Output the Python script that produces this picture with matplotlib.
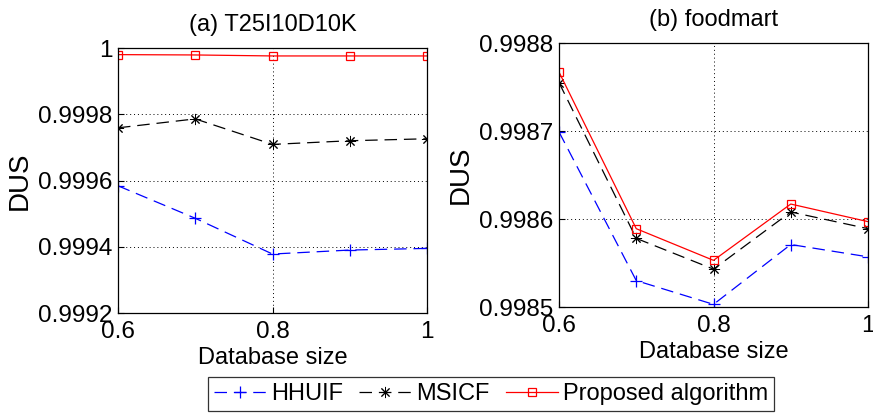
import matplotlib
matplotlib.use('Agg')
import matplotlib.pyplot as plt

plt.rcParams['font.family'] = ['Liberation Sans', 'DejaVu Sans']

# 数据
sizes = [0.6, 0.7, 0.8, 0.9, 1.0]

t25_hhuif = [0.999584, 0.999486, 0.999378, 0.999390, 0.999395]
t25_msicf = [0.999759, 0.999786, 0.999709, 0.999720, 0.999726]
t25_proposed = [0.999980, 0.999979, 0.999976, 0.999976, 0.999976]

food_hhuif = [0.998699, 0.998530, 0.998503, 0.998571, 0.998557]
food_msicf = [0.998755, 0.998578, 0.998543, 0.998608, 0.998589]
food_proposed = [0.998767, 0.998589, 0.998553, 0.998617, 0.998597]

titles = ["(a) T25I10D10K", "(b) foodmart"]
ylims = [(0.9992, 1.0), (0.9985, 0.9988)]
yticks = [[0.9992, 0.9994, 0.9996, 0.9998, 1.0],
          [0.9985, 0.9986, 0.9987, 0.9988]]
ylabels = [["0.9992", "0.9994", "0.9996", "0.9998", "1"],
           ["0.9985", "0.9986", "0.9987", "0.9988"]]
series = [(t25_hhuif, t25_msicf, t25_proposed),
          (food_hhuif, food_msicf, food_proposed)]

fig = plt.figure(figsize=(8.73, 4.15), dpi=100)
W, H = 873, 415
boxes = [(118, 48, 427, 313), (559, 43, 868, 307)]
dash = (0, (10, 5.5))

handles = None
for i, (l, t, r, b) in enumerate(boxes):
    ax = fig.add_axes([l / W, 1 - b / H, (r - l) / W, (b - t) / H])
    hh, ms, pr = series[i]
    h1, = ax.plot(sizes, hh, color='blue', ls=dash, lw=0.9,
                  marker='+', ms=9, mew=0.9, label='HHUIF')
    h2, = ax.plot(sizes, ms, color='black', ls=dash, lw=0.9,
                  marker=(8, 2, 0), ms=8, mew=0.7, label='MSICF')
    h3, = ax.plot(sizes, pr, color='red', ls='-', lw=0.9,
                  marker='s', ms=6, mfc='none', mew=0.9, label='Proposed algorithm')
    handles = [h1, h2, h3]
    ax.set_xlim(0.6, 1.0)
    ax.set_ylim(*ylims[i])
    ax.set_xticks([0.6, 0.8, 1.0])
    ax.set_xticklabels(["0.6", "0.8", "1"])
    ax.set_yticks(yticks[i])
    ax.set_yticklabels(ylabels[i])
    ax.grid(True, ls=(0, (1, 3)), color='black', lw=0.7)
    ax.tick_params(direction='in', labelsize=17.5, length=4)
    ax.tick_params(axis='y', pad=4)
    ax.tick_params(axis='x', pad=6)
    ax.set_title(titles[i], fontsize=17, pad=12)
    ax.set_xlabel("Database size", fontsize=17, labelpad=3)
    ax.set_ylabel("DUS", fontsize=20, labelpad=4)
    for s in ax.spines.values():
        s.set_linewidth(0.9)

leg = fig.legend(handles, [h.get_label() for h in handles], loc='center',
                 bbox_to_anchor=(491 / W, 1 - 394 / H), ncol=3, fontsize=17,
                 frameon=True, fancybox=False, edgecolor='black',
                 handlelength=2.2, columnspacing=0.7, handletextpad=0.2,
                 borderpad=0.25, borderaxespad=0)
leg.get_frame().set_linewidth(0.9)

plt.savefig("out.png", dpi=100)
plt.close()
